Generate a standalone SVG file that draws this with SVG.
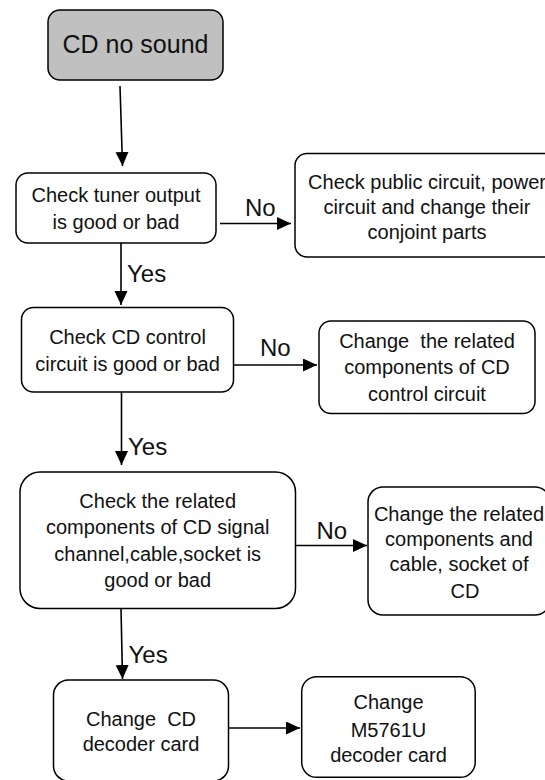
<svg xmlns="http://www.w3.org/2000/svg" width="545" height="780" viewBox="0 0 545 780">
<style>
.box{fill:#fff;stroke:#000;stroke-width:1.5}
.start{fill:#c0c0c0;stroke:#000;stroke-width:1.5}
.t{font-family:"Liberation Sans",Arial,sans-serif;font-size:20px;fill:#111;text-anchor:middle;white-space:pre}
.title{font-family:"Liberation Sans",Arial,sans-serif;font-size:25px;fill:#111;text-anchor:middle}
.lbl{font-family:"Liberation Sans",Arial,sans-serif;font-size:24px;fill:#111}
.edge{stroke:#000;stroke-width:1.6;fill:none;marker-end:url(#arr)}
</style>
<defs>
<marker id="arr" markerUnits="userSpaceOnUse" markerWidth="15" markerHeight="14" refX="14" refY="6.5" orient="auto">
<path d="M0,0 L14,6.5 L0,13 z" fill="#000"/>
</marker>
</defs>
<rect width="545" height="780" fill="#fff"/>
<g id="edges">
<line class="edge" x1="120" y1="86" x2="122.5" y2="166"/>
<line class="edge" x1="220" y1="223.5" x2="291" y2="223.5"/>
<text class="lbl" x="245" y="216">No</text>
<line class="edge" x1="121" y1="243" x2="121" y2="305"/>
<text class="lbl" x="127" y="281.5">Yes</text>
<line class="edge" x1="233.5" y1="365" x2="317" y2="365"/>
<text class="lbl" x="260" y="356">No</text>
<line class="edge" x1="121.5" y1="392" x2="121.5" y2="465"/>
<text class="lbl" x="128" y="455">Yes</text>
<line class="edge" x1="295.5" y1="545.5" x2="367" y2="545.5"/>
<text class="lbl" x="316.5" y="538.5">No</text>
<line class="edge" x1="121" y1="608" x2="122.5" y2="679"/>
<text class="lbl" x="128.5" y="663">Yes</text>
<line class="edge" x1="228.5" y1="728" x2="300" y2="728"/>
</g>
<g id="n1">
<rect class="start" x="48" y="10" width="175" height="70" rx="12"/>
<text class="title" x="135.5" y="53">CD no sound</text>
</g>
<g id="n2">
<rect class="box" x="16" y="173" width="200" height="70" rx="12"/>
<text class="t" x="116" y="202">Check tuner output</text>
<text class="t" x="116" y="229">is good or bad</text>
</g>
<g id="n3">
<rect class="box" x="295" y="153.5" width="265" height="103.5" rx="12"/>
<text class="t" x="427" y="188.5">Check public circuit, power</text>
<text class="t" x="427" y="213.5">circuit and change their</text>
<text class="t" x="427" y="238.5">conjoint parts</text>
</g>
<g id="n4">
<rect class="box" x="21.5" y="307.5" width="212" height="84.5" rx="12"/>
<text class="t" x="127.5" y="343.5">Check CD control</text>
<text class="t" x="127.5" y="371">circuit is good or bad</text>
</g>
<g id="n5">
<rect class="box" x="319" y="321" width="216" height="92.5" rx="12"/>
<text class="t" x="427" y="347.5">Change  the related</text>
<text class="t" x="427" y="374">components of CD</text>
<text class="t" x="427" y="400.5">control circuit</text>
</g>
<g id="n6">
<rect class="box" x="20" y="472" width="275.5" height="136.5" rx="20"/>
<text class="t" x="157.7" y="507.5">Check the related</text>
<text class="t" x="157.7" y="534">components of CD signal</text>
<text class="t" x="157.7" y="560.5">channel,cable,socket is</text>
<text class="t" x="157.7" y="586.5">good or bad</text>
</g>
<g id="n7">
<rect class="box" x="368" y="487" width="182" height="128" rx="15"/>
<text class="t" x="459" y="520.5">Change the related</text>
<text class="t" x="459" y="545.5">components and</text>
<text class="t" x="459" y="570.5">cable, socket of</text>
<text class="t" x="465" y="597.5">CD</text>
</g>
<g id="n8">
<rect class="box" x="53.5" y="680" width="175" height="101" rx="15"/>
<text class="t" x="141" y="725.5">Change  CD</text>
<text class="t" x="141" y="751">decoder card</text>
</g>
<g id="n9">
<rect class="box" x="301.7" y="676.7" width="173.5" height="100.6" rx="15"/>
<text class="t" x="388.5" y="708.7">Change</text>
<text class="t" x="388.5" y="736.5">M5761U</text>
<text class="t" x="388.5" y="762">decoder card</text>
</g>
</svg>
